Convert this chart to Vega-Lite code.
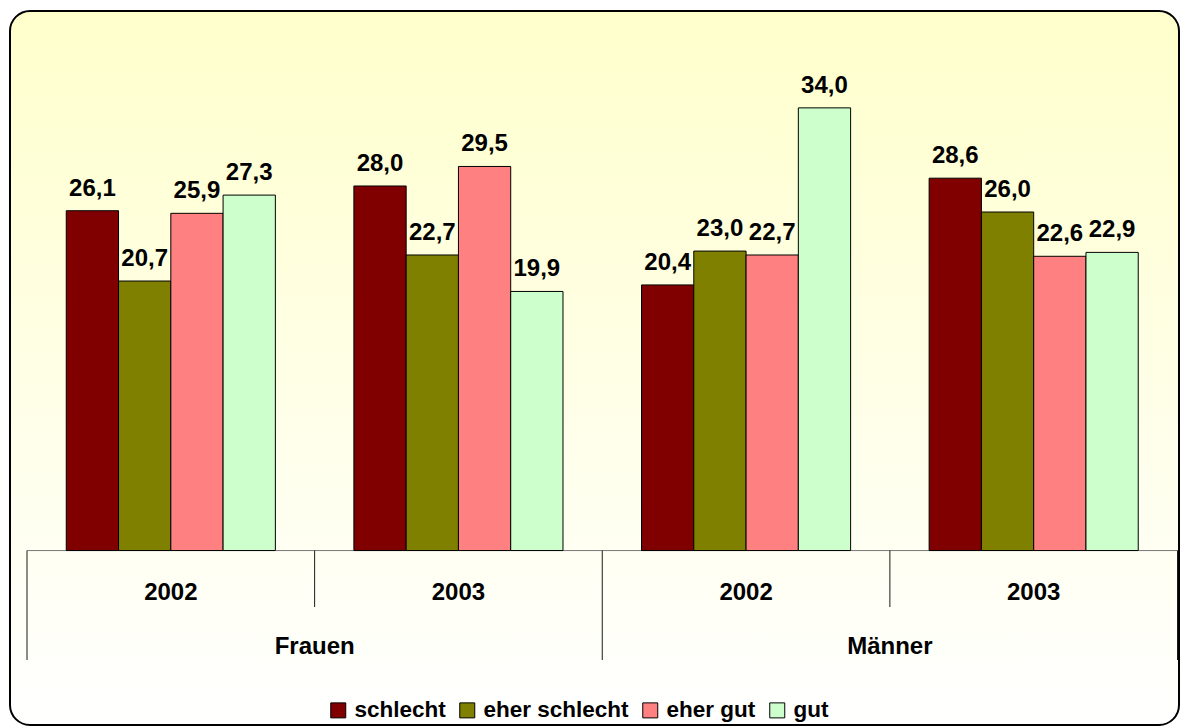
{
  "$schema": "https://vega.github.io/schema/vega-lite/v6.json",
  "width": 1169,
  "height": 714,
  "autosize": "none",
  "padding": {"left": 10, "top": 11, "right": 6, "bottom": 2},
  "background": "white",
  "config": {
    "locale": {"number": {"decimal": ",", "thousands": ".", "grouping": [3], "currency": ["", " €"]}},
    "view": {
      "fill": {"gradient": "linear", "x1": 0, "y1": 0, "x2": 0, "y2": 1, "stops": [{"offset": 0, "color": "#FFFFCC"}, {"offset": 1, "color": "#FFFFFF"}]},
      "stroke": "#000000",
      "strokeWidth": 2,
      "cornerRadius": 20
    },
    "text": {"font": "Liberation Sans", "fontWeight": "bold", "color": "#000000"}
  },
  "data": {
    "values": [
      {"g": "Frauen", "year": "2002", "grp": "Frauen 2002", "cat": "schlecht", "v": 26.1},
      {"g": "Frauen", "year": "2002", "grp": "Frauen 2002", "cat": "eher schlecht", "v": 20.7},
      {"g": "Frauen", "year": "2002", "grp": "Frauen 2002", "cat": "eher gut", "v": 25.9},
      {"g": "Frauen", "year": "2002", "grp": "Frauen 2002", "cat": "gut", "v": 27.3},
      {"g": "Frauen", "year": "2003", "grp": "Frauen 2003", "cat": "schlecht", "v": 28.0},
      {"g": "Frauen", "year": "2003", "grp": "Frauen 2003", "cat": "eher schlecht", "v": 22.7},
      {"g": "Frauen", "year": "2003", "grp": "Frauen 2003", "cat": "eher gut", "v": 29.5},
      {"g": "Frauen", "year": "2003", "grp": "Frauen 2003", "cat": "gut", "v": 19.9},
      {"g": "Männer", "year": "2002", "grp": "Männer 2002", "cat": "schlecht", "v": 20.4},
      {"g": "Männer", "year": "2002", "grp": "Männer 2002", "cat": "eher schlecht", "v": 23.0},
      {"g": "Männer", "year": "2002", "grp": "Männer 2002", "cat": "eher gut", "v": 22.7},
      {"g": "Männer", "year": "2002", "grp": "Männer 2002", "cat": "gut", "v": 34.0},
      {"g": "Männer", "year": "2003", "grp": "Männer 2003", "cat": "schlecht", "v": 28.6},
      {"g": "Männer", "year": "2003", "grp": "Männer 2003", "cat": "eher schlecht", "v": 26.0},
      {"g": "Männer", "year": "2003", "grp": "Männer 2003", "cat": "eher gut", "v": 22.6},
      {"g": "Männer", "year": "2003", "grp": "Männer 2003", "cat": "gut", "v": 22.9}
    ]
  },
  "encoding": {
    "x": {
      "field": "grp",
      "type": "nominal",
      "scale": {"domain": ["Frauen 2002", "Frauen 2003", "Männer 2002", "Männer 2003"], "range": [17, 1167.5], "paddingInner": 0, "paddingOuter": 0},
      "axis": null
    }
  },
  "layer": [
    {
      "transform": [{"filter": "datum.cat == 'schlecht'"}],
      "mark": {"type": "rect", "fill": "transparent", "stroke": "#808080", "strokeWidth": 1},
      "encoding": {
        "y": {"datum": 0, "type": "quantitative", "scale": {"domain": [-13.4, 41.44], "nice": false, "zero": false}, "axis": null},
        "y2": {"datum": 0}
      }
    },
    {
      "transform": [{"filter": "datum.cat == 'schlecht' && datum.year == '2002'"}],
      "mark": {"type": "rule", "stroke": "#1a1a1a", "strokeWidth": 1},
      "encoding": {
        "x": {"field": "grp", "type": "nominal", "bandPosition": 0},
        "y": {"datum": 0, "type": "quantitative", "scale": {"domain": [-13.4, 41.44], "nice": false, "zero": false}, "axis": null},
        "y2": {"datum": -8.41}
      }
    },
    {
      "transform": [{"filter": "datum.cat == 'schlecht' && datum.grp == 'Männer 2003'"}],
      "mark": {"type": "rule", "stroke": "#1a1a1a", "strokeWidth": 1},
      "encoding": {
        "x": {"field": "grp", "type": "nominal", "bandPosition": 1},
        "y": {"datum": 0, "type": "quantitative", "scale": {"domain": [-13.4, 41.44], "nice": false, "zero": false}, "axis": null},
        "y2": {"datum": -8.41}
      }
    },
    {
      "transform": [{"filter": "datum.cat == 'schlecht' && datum.year == '2003'"}],
      "mark": {"type": "rule", "stroke": "#1a1a1a", "strokeWidth": 1},
      "encoding": {
        "x": {"field": "grp", "type": "nominal", "bandPosition": 0},
        "y": {"datum": 0, "type": "quantitative", "scale": {"domain": [-13.4, 41.44], "nice": false, "zero": false}, "axis": null},
        "y2": {"datum": -4.34}
      }
    },
    {
      "mark": {"type": "bar", "stroke": "#000000", "strokeWidth": 1},
      "encoding": {
        "xOffset": {"field": "cat", "type": "nominal", "sort": ["schlecht", "eher schlecht", "eher gut", "gut"], "scale": {"paddingInner": 0, "paddingOuter": 0.751}},
        "y": {"field": "v", "type": "quantitative", "scale": {"domain": [-13.4, 41.44], "nice": false, "zero": false}, "axis": null},
        "y2": {"datum": 0},
        "color": {
          "field": "cat",
          "type": "nominal",
          "scale": {"domain": ["schlecht", "eher schlecht", "eher gut", "gut"], "range": ["#800000", "#808000", "#FF8080", "#CCFFCC"]},
          "legend": {
            "title": null,
            "orient": "none",
            "direction": "horizontal",
            "legendX": 317,
            "legendY": 688,
            "padding": 0,
            "symbolType": "square",
            "symbolSize": 225,
            "symbolStrokeColor": "#000000",
            "symbolStrokeWidth": 1,
            "symbolOpacity": 1,
            "labelFont": "Liberation Sans",
            "labelFontWeight": "bold",
            "labelFontSize": 22.5,
            "labelColor": "#000000",
            "labelOffset": 5,
            "columnPadding": 10
          }
        }
      }
    },
    {
      "mark": {"type": "text", "align": "center", "baseline": "alphabetic", "dy": -15, "fontSize": 24},
      "encoding": {
        "xOffset": {"field": "cat", "type": "nominal", "sort": ["schlecht", "eher schlecht", "eher gut", "gut"], "scale": {"paddingInner": 0, "paddingOuter": 0.751}},
        "y": {"field": "v", "type": "quantitative", "scale": {"domain": [-13.4, 41.44], "nice": false, "zero": false}, "axis": null},
        "text": {"field": "v", "type": "quantitative", "format": ".1f"}
      }
    },
    {
      "transform": [{"filter": "datum.cat == 'schlecht'"}],
      "mark": {"type": "text", "align": "center", "baseline": "alphabetic", "fontSize": 24},
      "encoding": {
        "y": {"datum": -3.79, "type": "quantitative", "scale": {"domain": [-13.4, 41.44], "nice": false, "zero": false}, "axis": null},
        "text": {"field": "year", "type": "nominal"}
      }
    },
    {
      "transform": [{"filter": "datum.cat == 'schlecht' && datum.year == '2003'"}],
      "mark": {"type": "text", "align": "center", "baseline": "alphabetic", "fontSize": 24},
      "encoding": {
        "x": {"field": "grp", "type": "nominal", "bandPosition": 0},
        "y": {"datum": -7.93, "type": "quantitative", "scale": {"domain": [-13.4, 41.44], "nice": false, "zero": false}, "axis": null},
        "text": {"field": "g", "type": "nominal"}
      }
    }
  ]
}
